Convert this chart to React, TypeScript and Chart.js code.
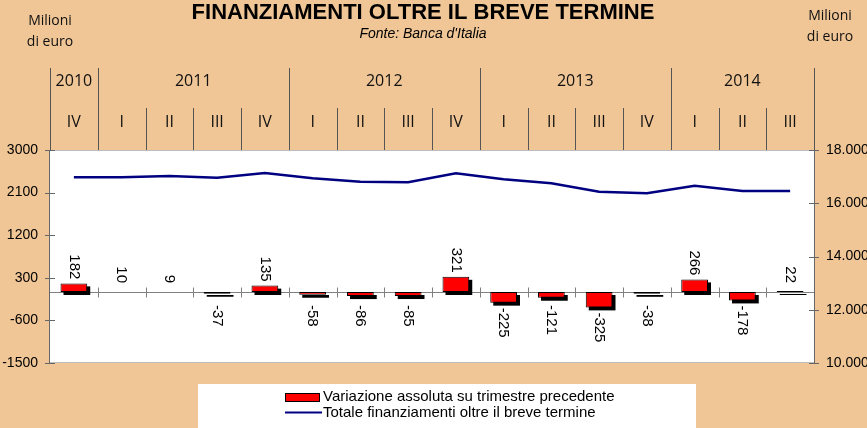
import React, { useEffect, useRef } from "react";
import { Chart, registerables } from "chart.js";

Chart.register(...registerables);

const years = ["2010", "2011", "2012", "2013", "2014"];
const quartersPerYear = [1, 4, 4, 4, 3];
const quarters = ["IV", "I", "II", "III", "IV", "I", "II", "III", "IV", "I", "II", "III", "IV", "I", "II", "III"];
const variation = [182, 10, 9, -37, 135, -58, -86, -85, 321, -225, -121, -325, -38, 266, -178, 22];
const totals = [16975, 16975, 17020, 16960, 17135, 16935, 16810, 16790, 17125, 16900, 16750, 16435, 16375, 16660, 16460, 16460];
const leftTicks = [-1500, -600, 300, 1200, 2100, 3000];
const rightTicks = [10000, 12000, 14000, 16000, 18000];

const categories = (() => {
  const out: string[] = [];
  let k = 0;
  years.forEach((y, yi) => {
    for (let q = 0; q < quartersPerYear[yi]; q++) {
      out.push(y + " " + quarters[k]);
      k++;
    }
  });
  return out;
})();

const TITLE = "FINANZIAMENTI OLTRE IL BREVE TERMINE";
const SUBTITLE = "Fonte: Banca d'Italia";
const BAR_LABEL = "Variazione assoluta su trimestre precedente";
const LINE_LABEL = "Totale finanziamenti oltre il breve termine";

const PEACH = "#F0C696";
const RED = "#FF0000";
const NAVY = "#000080";
const ARIAL = "'Liberation Sans', Arial, sans-serif";
const HUMAN = "'Open Sans', 'Noto Sans', sans-serif";

const fmtThousands = (v: number) => String(v).replace(/\B(?=(\d{3})+(?!\d))/g, ".");

function hLine(ctx: CanvasRenderingContext2D, x1: number, x2: number, y: number) {
  ctx.beginPath();
  ctx.moveTo(x1, y);
  ctx.lineTo(x2, y);
  ctx.stroke();
}
function vLine(ctx: CanvasRenderingContext2D, x: number, y1: number, y2: number) {
  ctx.beginPath();
  ctx.moveTo(x, y1);
  ctx.lineTo(x, y2);
  ctx.stroke();
}

const decor = {
  id: "decor",
  beforeDraw(chart: any) {
    const { ctx, chartArea: a } = chart;
    ctx.save();
    ctx.fillStyle = PEACH;
    ctx.fillRect(0, 0, chart.width, chart.height);
    ctx.fillStyle = "#FFFFFF";
    ctx.fillRect(a.left, a.top, a.right - a.left, a.bottom - a.top);

    // plot top / bottom border
    ctx.strokeStyle = "#BDBDBD";
    ctx.lineWidth = 1;
    hLine(ctx, a.left, a.right, Math.round(a.top) + 0.5);
    hLine(ctx, a.left, a.right, Math.round(a.bottom) - 0.5);

    // title
    ctx.fillStyle = "#000";
    ctx.textAlign = "center";
    ctx.textBaseline = "alphabetic";
    ctx.font = "bold 22px " + ARIAL;
    ctx.fillText(TITLE, 423, 19);
    ctx.font = "italic 14px " + ARIAL;
    ctx.fillText(SUBTITLE, 423, 38);

    // unit labels
    ctx.font = "14px " + HUMAN;
    ctx.fillStyle = "#111";
    ctx.fillText("Milioni", 50, 25);
    ctx.fillText("di euro", 50, 46);
    ctx.fillText("Milioni", 830, 20);
    ctx.fillText("di euro", 830, 41);

    // header grid
    const n = quarters.length;
    const step = (a.right - a.left) / n;
    const bx = (i: number) => Math.round(a.left + i * step) + 0.5;
    ctx.strokeStyle = "#555";
    ctx.lineWidth = 1;
    let idx = 0;
    const yearStarts: number[] = [];
    quartersPerYear.forEach((c) => {
      yearStarts.push(idx);
      idx += c;
    });
    yearStarts.push(n);
    for (let i = 0; i <= n; i++) {
      const isYear = yearStarts.includes(i);
      vLine(ctx, bx(i), isYear ? 68 : 108, a.top);
    }
    ctx.fillStyle = "#111";
    ctx.textBaseline = "middle";
    ctx.font = "16px " + HUMAN;
    years.forEach((y, yi) => {
      const cx = a.left + ((yearStarts[yi] + yearStarts[yi + 1]) / 2) * step;
      ctx.fillText(y, cx, 81);
    });
    quarters.forEach((q, i) => {
      ctx.fillText(q, a.left + (i + 0.5) * step, 122);
    });

    // axis lines
    ctx.strokeStyle = "#666";
    vLine(ctx, Math.round(a.left) - 0.5, a.top, a.bottom);
    vLine(ctx, Math.round(a.right) + 0.5, a.top, a.bottom);
    // axis ticks
    const sy = chart.scales.y;
    const sy1 = chart.scales.y1;
    leftTicks.forEach((v) => {
      const y = Math.round(sy.getPixelForValue(v)) + 0.5;
      hLine(ctx, a.left - 5, a.left + 5, y);
    });
    rightTicks.forEach((v) => {
      const y = Math.round(sy1.getPixelForValue(v)) + 0.5;
      hLine(ctx, a.right - 5, a.right + 5, y);
    });

    // legend
    ctx.fillStyle = "#FFFFFF";
    ctx.fillRect(198, 384, 498, 44);
    ctx.fillStyle = RED;
    ctx.fillRect(285, 393, 35, 9);
    ctx.strokeStyle = "#000";
    ctx.strokeRect(285.5, 393.5, 34, 8);
    ctx.strokeStyle = NAVY;
    ctx.lineWidth = 2;
    hLine(ctx, 285, 322, 412.5);
    ctx.fillStyle = "#000";
    ctx.textAlign = "left";
    ctx.textBaseline = "middle";
    ctx.font = "15px " + ARIAL;
    ctx.fillText(BAR_LABEL, 323, 397);
    ctx.fillText(LINE_LABEL, 323, 413);
    ctx.restore();
  },
  beforeDatasetsDraw(chart: any) {
    const { ctx, chartArea: a } = chart;
    ctx.save();
    const y0 = Math.round(chart.scales.y.getPixelForValue(0)) + 0.5;
    ctx.strokeStyle = "#808080";
    ctx.lineWidth = 1;
    hLine(ctx, a.left, a.right, y0);
    const n = quarters.length;
    const step = (a.right - a.left) / n;
    for (let i = 1; i < n; i++) {
      vLine(ctx, Math.round(a.left + i * step) + 0.5, y0 - 5, y0 + 5);
    }
    // bar shadows
    const meta = chart.getDatasetMeta(0);
    ctx.fillStyle = "#000";
    meta.data.forEach((bar: any) => {
      const { x, y, base, width } = bar.getProps(["x", "y", "base", "width"], true);
      const hh = Math.abs(base - y);
      if (hh < 0.8) return;
      const top = Math.min(y, base);
      ctx.fillRect(x - width / 2 + 3, top + 3, width, Math.max(hh, 1));
    });
    ctx.restore();
  },
  afterDatasetsDraw(chart: any) {
    const { ctx } = chart;
    const meta = chart.getDatasetMeta(0);
    ctx.save();
    ctx.font = "15px " + ARIAL;
    ctx.fillStyle = "#000";
    ctx.textBaseline = "middle";
    ctx.textAlign = "left";
    meta.data.forEach((bar: any, i: number) => {
      const v = variation[i];
      const { x, y } = bar.getProps(["x", "y"], true);
      const text = String(v);
      const w = ctx.measureText(text).width;
      let start: number;
      if (v >= 0) {
        const end = Math.min(y - 4, 283);
        start = end - w;
      } else {
        start = Math.max(y + 5, 305);
      }
      ctx.save();
      ctx.translate(x, start);
      ctx.rotate(Math.PI / 2);
      ctx.fillText(text, 0, 0);
      ctx.restore();
    });
    ctx.restore();
  },
};

export default function App() {
  const ref = useRef<HTMLCanvasElement>(null);
  useEffect(() => {
    const canvas = ref.current!;
    const chart = new Chart(canvas, {
      type: "bar",
      data: {
        labels: categories,
        datasets: [
          {
            type: "bar",
            label: BAR_LABEL,
            data: variation,
            yAxisID: "y",
            backgroundColor: RED,
            borderColor: (c: any) => (Math.abs(variation[c.dataIndex] ?? 0) < 20 ? "rgba(0,0,0,0)" : "#000"),
            borderWidth: 1,
            borderSkipped: false,
            barPercentage: 0.56,
            categoryPercentage: 1,
            order: 1,
          } as any,
          {
            type: "line",
            label: LINE_LABEL,
            data: totals,
            yAxisID: "y1",
            borderColor: NAVY,
            borderWidth: 2.5,
            pointRadius: 0,
            tension: 0,
            order: 0,
          } as any,
        ],
      },
      options: {
        responsive: false,
        animation: false,
        layout: { padding: { top: 150, bottom: 65, left: 0, right: 0 } },
        plugins: {
          legend: { display: false },
          title: { display: false },
          tooltip: { enabled: false },
        },
        scales: {
          x: { display: false, offset: true },
          y: {
            position: "left",
            min: -1500,
            max: 3000,
            afterBuildTicks: (s: any) => {
              s.ticks = leftTicks.map((v) => ({ value: v }));
            },
            afterFit: (s: any) => {
              s.width = 50;
            },
            grid: { display: false, drawTicks: false },
            border: { display: false },
            ticks: {
              padding: 12,
              color: "#000",
              font: { family: ARIAL, size: 14 },
              callback: (v: any) => String(v),
            },
          },
          y1: {
            position: "right",
            min: 10000,
            max: 18000,
            afterBuildTicks: (s: any) => {
              s.ticks = rightTicks.map((v) => ({ value: v }));
            },
            afterFit: (s: any) => {
              s.width = 53;
            },
            grid: { display: false, drawTicks: false },
            border: { display: false },
            ticks: {
              padding: 12,
              color: "#000",
              font: { family: ARIAL, size: 14 },
              callback: (v: any) => fmtThousands(Number(v)),
            },
          },
        },
      } as any,
      plugins: [decor],
    });
    return () => chart.destroy();
  }, []);
  return (
    <div style={{ position: "absolute", left: 0, top: 0, width: 867, height: 428, overflow: "hidden" }}>
      <canvas ref={ref} width={867} height={428} style={{ display: "block" }} />
    </div>
  );
}
